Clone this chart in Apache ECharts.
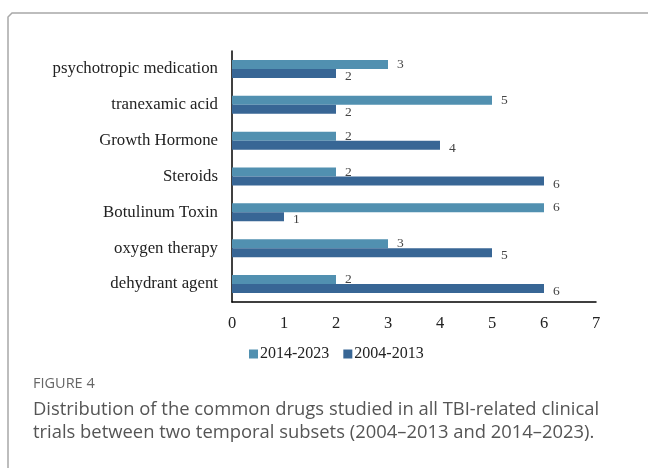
<!DOCTYPE html>
<html>
<head>
<meta charset="utf-8">
<script src="https://cdn.jsdelivr.net/npm/echarts@6/dist/echarts.min.js"></script>
<style>
  html, body { margin: 0; padding: 0; background: #fff; }
  #chart { width: 648px; height: 468px; }
</style>
</head>
<body>
<div id="chart"></div>
<script>
// categories top to bottom
var drugs = ['psychotropic medication', 'tranexamic acid', 'Growth Hormone', 'Steroids', 'Botulinum Toxin', 'oxygen therapy', 'dehydrant agent'];
var recent = [3, 5, 2, 2, 6, 3, 2];   // 2014-2023
var earlier = [2, 2, 4, 6, 1, 5, 6];  // 2004-2013
var xTicks = [0, 1, 2, 3, 4, 5, 6, 7];
var seriesNames = ['2014-2023', '2004-2013'];

var serif = '"Liberation Serif", "Times New Roman", serif';
var sans = '"Open Sans", Lato, sans-serif';

var chart = echarts.init(document.getElementById('chart'));

var option = {
  animation: false,
  backgroundColor: '#fff',
  color: ['#5190b0', '#386695'],
  grid: { left: 232, right: 52, top: 51, bottom: 166 },
  legend: {
    data: seriesNames,
    left: 244,
    top: 341,
    itemWidth: 9,
    itemHeight: 9,
    itemGap: 14,
    icon: 'rect',
    textStyle: { fontFamily: serif, fontSize: 16, color: '#222', padding: [0, 0, 0, -3] }
  },
  xAxis: {
    type: 'value',
    min: xTicks[0],
    max: xTicks[xTicks.length - 1],
    interval: 1,
    splitLine: { show: false },
    axisLine: { show: true, lineStyle: { color: '#000', width: 1.5 } },
    axisTick: { show: false },
    axisLabel: { fontFamily: serif, fontSize: 16.5, color: '#222', margin: 13 }
  },
  yAxis: {
    type: 'category',
    data: drugs,
    inverse: true,
    axisLine: { show: true, lineStyle: { color: '#000', width: 1.5 } },
    axisTick: { show: false },
    axisLabel: { fontFamily: serif, fontSize: 16.8, color: '#222', margin: 14 }
  },
  series: [
    {
      name: seriesNames[0],
      type: 'bar',
      data: recent,
      barWidth: 9,
      barGap: '0%',
      itemStyle: { borderWidth: 0 },
      label: { show: true, position: 'right', distance: 9, offset: [0, 0],
        fontFamily: serif, fontSize: 13.5, color: '#444' }
    },
    {
      name: seriesNames[1],
      type: 'bar',
      data: earlier,
      barWidth: 9,
      barGap: '0%',
      itemStyle: { borderWidth: 0 },
      label: { show: true, position: 'right', distance: 9, offset: [0, 3],
        fontFamily: serif, fontSize: 13.5, color: '#444' }
    }
  ],
  graphic: [
    { type: 'polyline', silent: true,
      shape: { points: [[8, 468], [8, 17], [12, 13], [648, 13]] },
      style: { stroke: '#a8a8a8', lineWidth: 1.5, fill: null } },
    { type: 'text', left: 33, top: 376,
      style: { text: 'FIGURE 4', fontFamily: sans, fontSize: 14.5, fill: '#666' } },
    { type: 'text', left: 33, top: 398,
      style: { text: 'Distribution of the common drugs studied in all TBI-related clinical\ntrials between two temporal subsets (2004\u20132013 and 2014\u20132023).',
        fontFamily: sans, fontSize: 18.4, lineHeight: 23, fill: '#555' } }
  ]
};

chart.setOption(option);
</script>
</body>
</html>
